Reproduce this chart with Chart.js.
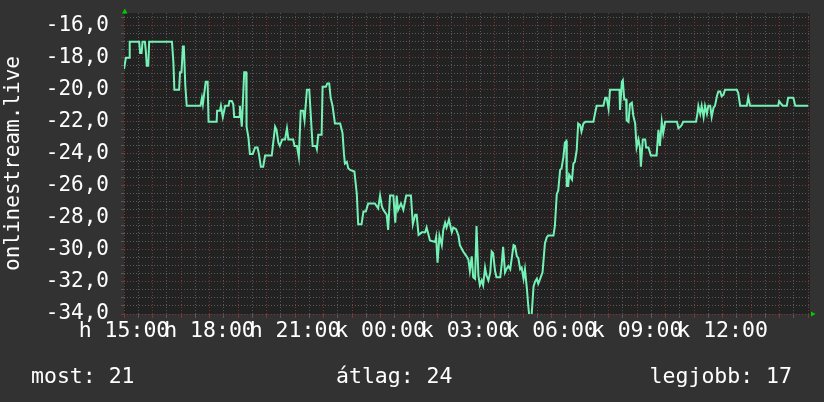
<!DOCTYPE html>
<html><head><meta charset="utf-8">
<script src="https://cdn.jsdelivr.net/npm/chart.js@4.4.0/dist/chart.umd.min.js"></script>
<style>
html,body{margin:0;padding:0;background:#323232;}
#wrap{position:relative;width:824px;height:402px;overflow:hidden;background:#323232;}
canvas{position:absolute;left:0;top:0;}
.lg{position:absolute;top:365px;font-family:'DejaVu Sans Mono',monospace;font-size:21.5px;line-height:1;color:#ffffff;white-space:pre;}
</style></head><body>
<div id="wrap"><canvas id="c" width="824" height="402"></canvas></div>
<script>
// ---- data (minutes after Monday 15:00, rank shown as negative value) ----
const times = [0,2,4,11,12,32,34,37,39,44,46,48,51,53,101,104,106,116,118,121,124,126,129,132,161,164,166,172,176,178,195,196,202,204,208,213,220,222,227,230,232,243,244,248,253,257,258,262,265,271,276,281,284,288,293,297,311,313,318,321,325,328,333,339,343,346,356,359,364,368,372,377,380,385,390,397,404,406,409,416,418,425,428,432,435,439,444,448,455,460,463,465,469,472,476,485,490,493,500,504,509,514,528,535,539,543,546,553,556,560,567,571,574,577,583,588,594,604,608,613,616,620,627,634,637,644,655,657,660,664,669,672,676,679,684,690,693,699,704,707,714,721,725,728,732,735,739,742,746,749,753,756,760,763,767,771,774,777,781,784,792,795,798,802,805,809,813,820,823,827,830,834,837,841,844,848,851,853,858,862,865,869,872,876,881,886,890,893,904,907,911,914,918,921,925,928,931,932,935,937,943,946,949,953,956,960,963,967,971,988,992,995,1009,1013,1016,1020,1023,1043,1044,1048,1050,1053,1057,1058,1062,1065,1069,1072,1076,1079,1083,1086,1088,1092,1097,1099,1104,1109,1121,1125,1128,1132,1135,1139,1164,1167,1171,1174,1177,1204,1207,1209,1213,1216,1220,1223,1227,1230,1234,1237,1241,1244,1248,1251,1255,1258,1262,1265,1290,1293,1297,1311,1314,1318,1377,1379,1384,1387,1395,1398,1409,1413,1440];
const values = [-18.7,-18.7,-18,-18,-17,-17,-17.7,-17.7,-17,-17,-17.6,-18.5,-18.5,-17,-17,-18.3,-20,-20,-18.9,-18.9,-17.3,-17.3,-19.7,-21,-21,-20.5,-20.9,-19.5,-19.5,-22,-22,-21.3,-21.3,-21,-21.7,-21,-21,-20.7,-20.7,-20.9,-21.7,-21.7,-21,-22.3,-18.9,-18.9,-22.3,-23,-24,-24,-23.6,-23.6,-24,-24.8,-24.8,-24.1,-24.1,-23.6,-22.3,-22.5,-23.3,-23.5,-23.1,-23.1,-22.4,-23.1,-23.1,-23.5,-23.5,-24.2,-21.3,-21.3,-21.9,-20,-20,-23.5,-23.5,-23.7,-22.8,-22.8,-19.8,-19.8,-19.6,-19.6,-20.5,-21,-22.1,-22.1,-22.1,-22.7,-24,-24.6,-24.5,-24.9,-25,-25.1,-26.5,-28.4,-28.4,-27.6,-27.6,-27.1,-27.1,-27.4,-26.6,-27.3,-27.5,-27.8,-28.75,-26.6,-26.6,-28.3,-26.6,-27.5,-27.1,-27.5,-26.6,-26.6,-28.4,-27.8,-27.8,-29.06,-28.9,-28.9,-28.6,-29.4,-29.5,-29.2,-30.8,-29.1,-29.7,-28.75,-28.3,-28.6,-28.1,-28.9,-28.6,-28.7,-29.1,-29.7,-30.1,-30.4,-30.6,-31.3,-30.4,-31.7,-31.8,-28.5,-31.6,-32.2,-31.9,-32.2,-31.1,-31.6,-31.9,-31.4,-30.1,-30.2,-31.3,-31.7,-31.7,-30.9,-29.8,-31.4,-31.2,-31,-31.2,-29.7,-29.75,-30.4,-30.5,-31.2,-31.1,-31.8,-31.2,-32.4,-33.5,-34.1,-34.1,-32.3,-32,-31.8,-32.1,-31.8,-31.4,-29.6,-29.2,-29.1,-29.1,-28.5,-26.5,-26.3,-25,-24.9,-24.2,-23.3,-23.2,-26,-26,-25.3,-25.6,-24.6,-24.5,-23.75,-22.1,-22.2,-22.6,-22.1,-22,-22,-21.4,-21,-21,-20.5,-20.5,-21.2,-20,-20,-21.25,-19.5,-19.4,-20.6,-20.6,-21.9,-22,-20.9,-20.8,-21.6,-22.1,-23.6,-23.1,-23.6,-24.8,-23.1,-23.1,-23.6,-23.6,-24.1,-24.1,-22.5,-23.5,-22,-22.7,-22,-22,-22.4,-22.3,-22.2,-22,-22,-21.5,-21,-21.5,-21,-21.7,-21,-21.5,-21,-21,-21.7,-21.1,-21,-20.4,-20.1,-20.1,-20.4,-20.3,-20,-20,-20.2,-21,-21,-20.45,-21,-21,-20.7,-20.9,-21,-21,-20.5,-20.5,-21,-21];
const xTickMinutes = [0,180,360,540,720,900,1080,1260];
const xTickLabels = ['h 15:00','h 18:00','h 21:00','k 00:00','k 03:00','k 06:00','k 09:00','k 12:00'];
const yLabelValues = [-34,-32,-30,-28,-26,-24,-22,-20,-18,-16];
const yAxisTitle = 'onlinestream.live';
const legendNames = ['most', 'átlag', 'legjobb'];
const legendValues = [21, 24, 17];

// ---- styling ----
const LINE = '#74f2b6';
const GRID_MINOR = '#595959';
const GRID_MAJOR = '#7c3838';
const PLOT_BG = '#222222';
const FONT = "'DejaVu Sans Mono', monospace";

const rrdPlugin = {
  id: 'rrd',
  beforeDraw(chart) {
    const {ctx, chartArea: a} = chart;
    ctx.save();
    ctx.fillStyle = PLOT_BG;
    ctx.fillRect(a.left, a.top, a.right - a.left, a.bottom - a.top);
    ctx.restore();
  },
  afterDraw(chart) {
    const {ctx, chartArea: a} = chart;
    ctx.save();
    ctx.fillStyle = '#00cc00';
    ctx.beginPath();
    ctx.moveTo(a.left - 2, a.top + 0.5);
    ctx.lineTo(a.left + 3.5, a.top + 0.5);
    ctx.lineTo(a.left + 0.8, a.top - 4.5);
    ctx.closePath(); ctx.fill();
    ctx.beginPath();
    ctx.moveTo(a.right + 1, a.bottom - 2.5);
    ctx.lineTo(a.right + 1, a.bottom + 2.5);
    ctx.lineTo(a.right + 5.5, a.bottom);
    ctx.closePath(); ctx.fill();
    ctx.restore();
  }
};

new Chart(document.getElementById('c'), {
  type: 'line',
  data: {
    datasets: [{
      data: times.map((t, i) => ({x: t, y: values[i]})),
      borderColor: LINE,
      borderWidth: 2,
      pointRadius: 0,
      tension: 0,
      fill: false
    }]
  },
  options: {
    responsive: false,
    animation: false,
    events: [],
    layout: {padding: {top: 13, right: 14, left: 0, bottom: 0}},
    plugins: {legend: {display: false}, tooltip: {enabled: false}},
    scales: {
      x: {
        type: 'linear', min: 0, max: 1444,
        afterBuildTicks(scale) {
          const t = [];
          for (let m = 0; m <= 1440; m += 30) t.push({value: m});
          scale.ticks = t;
        },
        afterFit(scale) { scale.height = 88; scale.paddingLeft = 0; scale.paddingRight = 0; },
        grid: {
          color: c => (c.tick && c.tick.value % 60 === 0) ? GRID_MAJOR : GRID_MINOR,
          tickColor: c => (c.tick && c.tick.value % 60 === 0) ? GRID_MAJOR : GRID_MINOR,
          lineWidth: 1, tickLength: 4, drawTicks: true
        },
        border: {display: false, dash: [1, 2]},
        ticks: {
          autoSkip: false, maxRotation: 0, minRotation: 0, padding: 1,
          color: '#ffffff',
          font: {family: FONT, size: 21.5},
          callback: v => { const i = xTickMinutes.indexOf(v); return i >= 0 ? xTickLabels[i] : ''; }
        }
      },
      y: {
        type: 'linear', min: -34, max: -15.2,
        afterBuildTicks(scale) {
          const t = [];
          for (let v = -34; v <= -15.5; v += 0.5) t.push({value: v});
          scale.ticks = t;
        },
        afterFit(scale) { scale.width = 124; scale.paddingTop = 0; scale.paddingBottom = 0; },
        grid: {
          color: c => (c.tick && c.tick.value % 2 === 0) ? GRID_MAJOR : GRID_MINOR,
          tickColor: c => (c.tick && c.tick.value % 2 === 0) ? GRID_MAJOR : GRID_MINOR,
          lineWidth: 1, tickLength: 3, drawTicks: true
        },
        border: {display: false, dash: [1, 2]},
        ticks: {
          autoSkip: false, padding: 12,
          color: '#ffffff',
          font: {family: FONT, size: 21},
          callback: v => yLabelValues.includes(v) ? v.toFixed(1).replace('.', ',') : ''
        },
        title: {
          display: true, text: yAxisTitle, color: '#ffffff',
          font: {family: FONT, size: 21, lineHeight: 1.2},
          padding: {top: 1, bottom: 0}
        }
      }
    }
  },
  plugins: [rrdPlugin]
});

// legend row
const wrap = document.getElementById('wrap');
const legendPos = [{left: '31px'}, {left: '336px'}, {right: '32px'}];
legendNames.forEach((n, i) => {
  const s = document.createElement('div');
  s.className = 'lg';
  s.textContent = n + ': ' + legendValues[i];
  Object.assign(s.style, legendPos[i]);
  wrap.appendChild(s);
});
</script>
</body></html>
